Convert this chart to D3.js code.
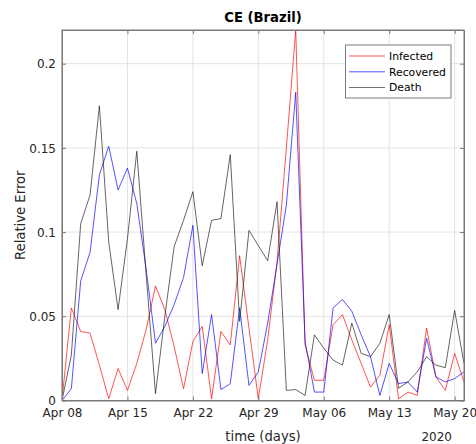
<!DOCTYPE html>
<html>
<head>
<meta charset="utf-8">
<script src="https://cdn.jsdelivr.net/npm/d3@7"></script>
<style>
  body { margin: 0; background: #fff; }
  svg { display: block; font-family: "DejaVu Sans", sans-serif; }
</style>
</head>
<body>
<svg width="476" height="444"></svg>
<script>
// relative error per day, Apr 08 .. May 21 2020
var infected = [0, 0.055, 0.041, 0.040, 0.021, 0.001, 0.019, 0.006, 0.022, 0.042, 0.068,
  0.054, 0.032, 0.007, 0.035, 0.044, 0.001, 0.041, 0.033, 0.086, 0.043,
  0.001, 0.036, 0.082, 0.150, 0.220, 0.033, 0.012, 0.012, 0.045, 0.051,
  0.036, 0.022, 0.008, 0.015, 0.045, 0.001, 0.005, 0.003, 0.043, 0.014,
  0.006, 0.028, 0.011];
var recovered = [0, 0.007, 0.071, 0.088, 0.134, 0.151, 0.125, 0.138, 0.117, 0.078, 0.034,
  0.044, 0.057, 0.073, 0.104, 0.016, 0.051, 0.0065, 0.010, 0.055, 0.009,
  0.017, 0.046, 0.081, 0.116, 0.183, 0.035, 0.005, 0.005, 0.055, 0.060,
  0.053, 0.039, 0.026, 0.003, 0.022, 0.010, 0.011, 0.005, 0.037, 0.014,
  0.011, 0.013, 0.017];
var death = [0, 0.027, 0.105, 0.122, 0.175, 0.094, 0.054, 0.096, 0.148, 0.075, 0.004,
  0.050, 0.0915, 0.107, 0.124, 0.080, 0.107, 0.108, 0.146, 0.047, 0.101,
  0.092, 0.083, 0.118, 0.006, 0.0065, 0.003, 0.039, 0.031, 0.024, 0.021,
  0.046, 0.028, 0.026, 0.034, 0.051, 0.0073, 0.011, 0.017, 0.026, 0.021,
  0.0195, 0.0535, 0.022];
var seriesNames = ["Infected", "Recovered", "Death"];
var seriesColors = ["#ff0000", "#0000ff", "#1a1a1a"];
var yTicks = [0, 0.05, 0.1, 0.15, 0.2];
var yTickLabels = ["0", "0.05", "0.1", "0.15", "0.2"];
var xTickDates = ["2020-04-08", "2020-04-15", "2020-04-22", "2020-04-29", "2020-05-06", "2020-05-13", "2020-05-20"];

var start = new Date(2020, 3, 8);
var parse = d3.timeParse("%Y-%m-%d");
var dates = infected.map(function(v, i) { return d3.timeDay.offset(start, i); });

var pL = 62, pR = 464, pT = 30, pB = 400.5;
var svg = d3.select("svg");

var x = d3.scaleTime()
  .domain([start, d3.timeDay.offset(start, 43)])
  .range([pL, pR]);
var y = d3.scaleLinear().domain([0, 0.22]).range([pB, pT]);

var xt = xTickDates.map(parse);

// grid
svg.append("g").selectAll("line").data(xt).enter().append("line")
  .attr("x1", function(d) { return x(d); }).attr("x2", function(d) { return x(d); })
  .attr("y1", pT).attr("y2", pB)
  .style("stroke", "#e3e3e3").style("stroke-width", 1);
svg.append("g").selectAll("line").data(yTicks).enter().append("line")
  .attr("x1", pL).attr("x2", pR)
  .attr("y1", function(d) { return y(d); }).attr("y2", function(d) { return y(d); })
  .style("stroke", "#e3e3e3").style("stroke-width", 1);

// lines
var line = d3.line()
  .x(function(d, i) { return x(dates[i]); })
  .y(function(d) { return y(d); });

svg.append("defs").append("clipPath").attr("id", "clip")
  .append("rect").attr("x", pL).attr("y", pT)
  .attr("width", pR - pL).attr("height", pB - pT);

var plotG = svg.append("g").attr("clip-path", "url(#clip)");
[infected, recovered, death].forEach(function(s, k) {
  plotG.append("path")
    .attr("d", line(s))
    .style("fill", "none")
    .style("stroke", seriesColors[k])
    .style("stroke-width", 0.8)
    .style("opacity", 0.85);
});

// axes
var xAxis = svg.append("g").attr("transform", "translate(0," + pB + ")")
  .call(d3.axisBottom(x).tickValues(xt).tickFormat(d3.timeFormat("%b %d"))
    .tickSizeInner(-4).tickSizeOuter(0).tickPadding(8));
var xAxisTop = svg.append("g").attr("transform", "translate(0," + pT + ")")
  .call(d3.axisTop(x).tickValues(xt).tickFormat("")
    .tickSizeInner(-4).tickSizeOuter(0));
var yAxis = svg.append("g").attr("transform", "translate(" + pL + ",0)")
  .call(d3.axisLeft(y).tickValues(yTicks)
    .tickFormat(function(d, i) { return yTickLabels[i]; })
    .tickSizeInner(-4).tickSizeOuter(0).tickPadding(6));
var yAxisRight = svg.append("g").attr("transform", "translate(" + pR + ",0)")
  .call(d3.axisRight(y).tickValues(yTicks).tickFormat("")
    .tickSizeInner(-4).tickSizeOuter(0));

[xAxis, xAxisTop, yAxis, yAxisRight].forEach(function(a) {
  a.selectAll("path").style("stroke", "#7a7a7a");
  a.selectAll("line").style("stroke", "#7a7a7a");
  a.selectAll("text").style("fill", "#262626")
    .style("font-family", "DejaVu Sans").style("font-size", "12px");
});
yAxis.selectAll("text").attr("dy", "0.35em");

// box frame
svg.append("rect").attr("x", pL).attr("y", pT)
  .attr("width", pR - pL).attr("height", pB - pT)
  .style("fill", "none").style("stroke", "#7a7a7a").style("stroke-width", 1);

// labels
svg.append("text").attr("x", (pL + pR) / 2).attr("y", 22)
  .attr("text-anchor", "middle").style("font-weight", "bold")
  .style("font-size", "13.2px").style("fill", "#000")
  .text("CE (Brazil)");
svg.append("text").attr("x", (pL + pR) / 2).attr("y", 441)
  .attr("text-anchor", "middle").style("font-size", "13.2px").style("fill", "#262626")
  .text("time (days)");
svg.append("text").attr("x", 452).attr("y", 441)
  .attr("text-anchor", "end").style("font-size", "12px").style("fill", "#262626")
  .text("2020");
svg.append("text").attr("transform", "translate(25," + (pT + pB) / 2 + ") rotate(-90)")
  .attr("text-anchor", "middle").style("font-size", "13.2px").style("fill", "#262626")
  .text("Relative Error");

// legend
var lg = svg.append("g");
lg.append("rect").attr("x", 345.5).attr("y", 45).attr("width", 105.5).attr("height", 53)
  .style("fill", "#fff").style("stroke", "#7a7a7a").style("stroke-width", 1);
seriesNames.forEach(function(n, k) {
  var yy = 56 + k * 15.8;
  lg.append("line").attr("x1", 349).attr("x2", 385).attr("y1", yy).attr("y2", yy)
    .style("stroke", seriesColors[k]).style("stroke-width", 0.8).style("opacity", 0.85);
  lg.append("text").attr("x", 389).attr("y", yy).attr("dy", "0.35em")
    .style("font-size", "10.8px").style("fill", "#000").text(n);
});
</script>
</body>
</html>
